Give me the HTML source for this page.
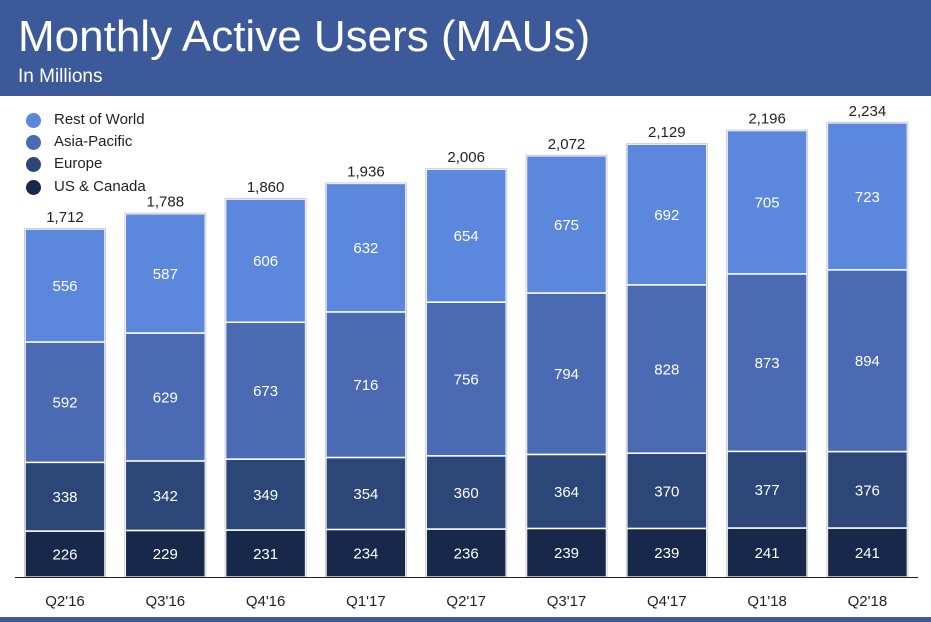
<!DOCTYPE html>
<html><head><meta charset="utf-8"><style>
body{margin:0;width:931px;height:622px;background:#fff;font-family:"Liberation Sans",sans-serif;overflow:hidden;position:relative}
#hdr{position:absolute;left:0;top:0;width:931px;height:96px;background:#3c5a99}
#title{position:absolute;left:18px;top:12px;color:#fff;font-size:44px}
#sub{position:absolute;left:18px;top:66px;color:#fff;font-size:19px}
#foot{position:absolute;left:0;top:617px;width:931px;height:5px;background:#3c5a99}
.leg{position:absolute;left:26px;font-size:15px;color:#222}
.leg i{position:absolute;left:0;top:2px;width:15px;height:15px;border-radius:50%}
.leg span{position:absolute;left:28px;top:0;white-space:nowrap}
</style></head><body>
<div id="hdr"></div>
<div id="title">Monthly Active Users (MAUs)</div>
<div id="sub">In Millions</div>
<div class="leg" style="top:111px"><i style="background:#5b87dc"></i><span>Rest of World</span></div>
<div class="leg" style="top:133px"><i style="background:#4a6bb4"></i><span>Asia-Pacific</span></div>
<div class="leg" style="top:155px"><i style="background:#2c4677"></i><span>Europe</span></div>
<div class="leg" style="top:178px"><i style="background:#17284a"></i><span>US &amp; Canada</span></div>
<svg id="chart" width="931" height="622" style="position:absolute;left:0;top:0"></svg>
<div id="foot"></div>
<script>
const categories=["Q2'16","Q3'16","Q4'16","Q1'17","Q2'17","Q3'17","Q4'17","Q1'18","Q2'18"];
const usCanada=[226,229,231,234,236,239,239,241,241];
const europe=[338,342,349,354,360,364,370,377,376];
const asiaPacific=[592,629,673,716,756,794,828,873,894];
const restOfWorld=[556,587,606,632,654,675,692,705,723];
const totals=["1,712","1,788","1,860","1,936","2,006","2,072","2,129","2,196","2,234"];
const series=[[usCanada,"#17284a","us-canada"],[europe,"#2c4677","europe"],[asiaPacific,"#4a6bb4","asia-pacific"],[restOfWorld,"#5b87dc","rest-of-world"]];
const NS="http://www.w3.org/2000/svg";
const svg=document.getElementById('chart');
const base=577,scale=0.2033,x0=25,step=100.3,bw=80;
const xPos=i=>x0+i*step;
const yLen=v=>v*scale;
function mk(t,a){const e=document.createElementNS(NS,t);for(const k in a)e.setAttribute(k,a[k]);svg.appendChild(e);return e;}
categories.forEach((c,i)=>{
  let y=base;
  series.forEach(([arr,col,nm])=>{
    const h=yLen(arr[i]);y-=h;
    const r=mk('rect',{x:xPos(i),y:y,width:bw,height:h,fill:col,stroke:'#fff','stroke-width':1.5});
    
    
    const t=mk('text',{x:xPos(i)+bw/2,y:y+h/2+5.5,'text-anchor':'middle',fill:'#fff','font-size':15,'font-family':'Liberation Sans, sans-serif'});
    t.textContent=arr[i];
    
    
  });
  const o=mk('rect',{x:xPos(i)-0.5,y:y-0.5,width:bw+1,height:base-y+0.5,fill:'none',stroke:'#ccc','stroke-width':1});
  
  
  const tt=mk('text',{x:xPos(i)+bw/2,y:y-7,'text-anchor':'middle',fill:'#222','font-size':15,'font-family':'Liberation Sans, sans-serif'});
  tt.textContent=totals[i];
  
  
  const xl=mk('text',{x:xPos(i)+bw/2,y:606,'text-anchor':'middle',fill:'#222','font-size':15,'font-family':'Liberation Sans, sans-serif'});
  xl.textContent=c;
  
  
});
const ax=mk('line',{x1:15,x2:918,y1:base+0.5,y2:base+0.5,stroke:'#222','stroke-width':1});


</script>
</body></html>
